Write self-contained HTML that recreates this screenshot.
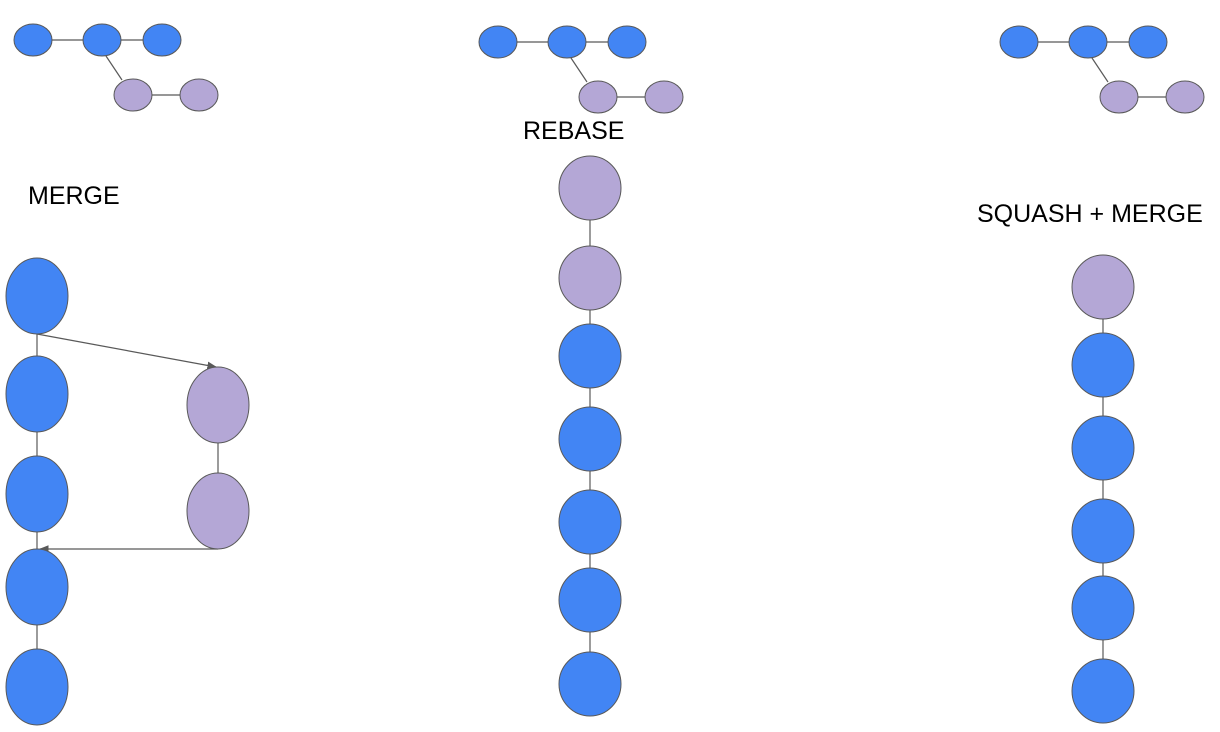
<!DOCTYPE html>
<html><head><meta charset="utf-8"><style>
html,body{margin:0;padding:0;background:#fff;width:1220px;height:732px;overflow:hidden}
text{font-family:"Liberation Sans",sans-serif;font-size:25px;fill:#000}
</style></head><body>
<svg id="d" width="1220" height="732" xmlns="http://www.w3.org/2000/svg">
<defs><marker id="ah" viewBox="0 0 10 10" refX="9" refY="5" markerWidth="8" markerHeight="8" orient="auto"><path d="M0,1 L10,5 L0,9 z" fill="#595959"/></marker></defs>
<g id="g"></g>
<text x="28" y="204">MERGE</text>
<text x="523" y="139">REBASE</text>
<text x="977" y="222">SQUASH + MERGE</text>
</svg>
<script>
const B="#4285f4",P="#b4a7d6",S="#595959";
const g=document.getElementById('g');
function mk(t,a){const e=document.createElementNS("http://www.w3.org/2000/svg",t);for(const k in a)e.setAttribute(k,a[k]);g.appendChild(e);return e;}
function line(x1,y1,x2,y2,arrow){const e=mk('line',{x1,y1,x2,y2,stroke:S,'stroke-width':1.2});if(arrow)e.setAttribute('marker-end','url(#ah)');

}
function node(cx,cy,rx,ry,f){const e=mk('ellipse',{cx,cy,rx,ry,fill:f,stroke:S,'stroke-width':1});

}
const miniX=[33,498,1019];const miniY=[40,42,42];
miniX.forEach((x,i)=>{const y=miniY[i];
line(x,y,x+69,y);line(x+69,y,x+129,y);line(x+73,y+16,x+89,y+40);line(x+100,y+55,x+166,y+55);
node(x,y,19,16,B);node(x+69,y,19,16,B);node(x+129,y,19,16,B);node(x+100,y+55,19,16,P);node(x+166,y+55,19,16,P);});
const mergeBlue=[296,394,494,587,687];const mergePurple=[405,511];
line(37,296,37,687);
line(218,405,218,511);
line(37,334,216,367,true);
line(218,549,40,549,true);
mergeBlue.forEach(y=>node(37,y,31,38,B));
mergePurple.forEach(y=>node(218,y,31,38,P));
const rebaseY=[188,278,356,439,522,600,684];const rebaseC=[P,P,B,B,B,B,B];
line(590,188,590,684);
rebaseY.forEach((y,i)=>node(590,y,31,32,rebaseC[i]));
const sqY=[287,365,448,531,608,691];
line(1103,287,1103,691);
sqY.forEach((y,i)=>node(1103,y,31,32,i===0?P:B));
</script>
</body></html>
